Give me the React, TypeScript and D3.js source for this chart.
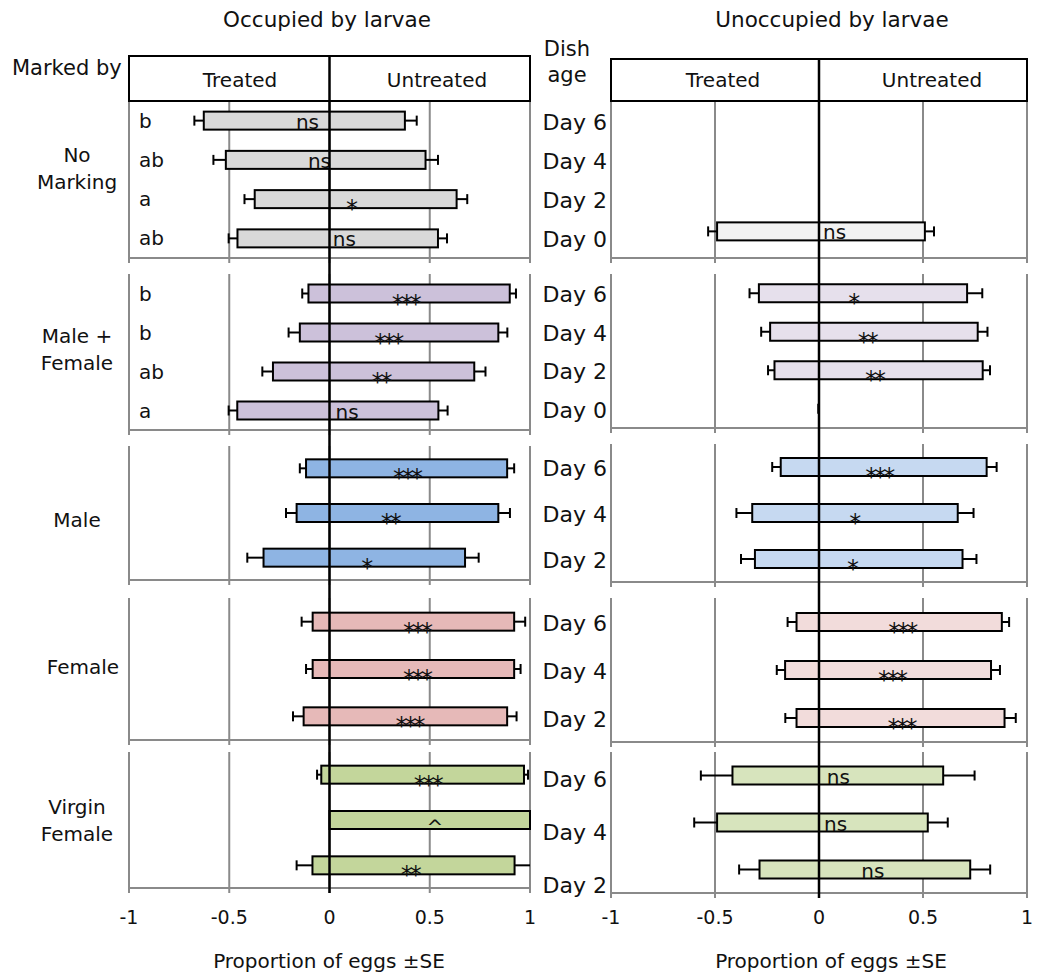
import React from "react";
import * as d3 from "d3";

// ---------------- DATA ----------------
const groupNames: string[][] = [["No", "Marking"], ["Male +", "Female"], ["Male"], ["Female"], ["Virgin", "Female"]];
const dayLabels: string[][] = [
  ["Day 6", "Day 4", "Day 2", "Day 0"],
  ["Day 6", "Day 4", "Day 2", "Day 0"],
  ["Day 6", "Day 4", "Day 2"],
  ["Day 6", "Day 4", "Day 2"],
  ["Day 6", "Day 4", "Day 2"],
];
const xTicks = [-1, -0.5, 0, 0.5, 1];

// Occupied by larvae (left panel): proportion on treated side / untreated side, with SE
const occTreated = [[0.627, 0.517, 0.373, 0.459], [0.105, 0.148, 0.282, 0.46], [0.117, 0.164, 0.329], [0.084, 0.084, 0.129], [0.041, 0, 0.085]];
const occTreatedSE = [[0.047, 0.062, 0.051, 0.044], [0.031, 0.056, 0.053, 0.043], [0.031, 0.053, 0.081], [0.055, 0.033, 0.053], [0.021, 0, 0.079]];
const occUntreated = [[0.376, 0.479, 0.634, 0.541], [0.899, 0.842, 0.722, 0.543], [0.886, 0.842, 0.676], [0.921, 0.921, 0.886], [0.97, 1.0, 0.923]];
const occUntreatedSE = [[0.059, 0.062, 0.053, 0.045], [0.031, 0.045, 0.056, 0.046], [0.035, 0.058, 0.068], [0.055, 0.032, 0.047], [0.02, 0, 0.09]];
const occSig = [["ns", "ns", "*", "ns"], ["***", "***", "**", "ns"], ["***", "**", "*"], ["***", "***", "***"], ["***", "^", "**"]];
const occSigAt = [[-0.11, -0.05, 0.105, 0.074], [0.378, 0.29, 0.254, 0.088], [0.384, 0.301, 0.181], [0.434, 0.434, 0.396], [0.487, 0.525, 0.4]];
const occLetters = [["b", "ab", "a", "ab"], ["b", "b", "ab", "a"], [], [], []];

// Unoccupied by larvae (right panel)
const unoccTreated = [[null, null, null, 0.49], [0.289, 0.235, 0.214, 0], [0.184, 0.321, 0.308], [0.108, 0.163, 0.108], [0.416, 0.49, 0.286]];
const unoccTreatedSE = [[0, 0, 0, 0.043], [0.045, 0.043, 0.031, 0], [0.041, 0.076, 0.067], [0.043, 0.04, 0.054], [0.152, 0.11, 0.098]];
const unoccUntreated = [[null, null, null, 0.509], [0.712, 0.763, 0.787, 0], [0.806, 0.667, 0.69], [0.879, 0.827, 0.892], [0.597, 0.523, 0.727]];
const unoccUntreatedSE = [[0, 0, 0, 0.044], [0.073, 0.047, 0.035, 0], [0.048, 0.076, 0.067], [0.035, 0.043, 0.054], [0.151, 0.096, 0.096]];
const unoccSig = [["", "", "", "ns"], ["*", "**", "**", ""], ["***", "*", "*"], ["***", "***", "***"], ["ns", "ns", "ns"]];
const unoccSigAt = [[0, 0, 0, 0.075], [0.162, 0.229, 0.264, 0], [0.287, 0.167, 0.156], [0.398, 0.349, 0.394], [0.093, 0.08, 0.259]];

const occColors = ["#d9d9d9", "#ccc1da", "#8eb4e3", "#e6b9b8", "#c3d69b"];
const unoccColors = ["#f2f2f2", "#e6e0ec", "#c6d9f1", "#f2dcdb", "#d7e4bd"];

// ---------------- LAYOUT ----------------
const W = 1046, H = 975;
const FONT = "'DejaVu Sans', Verdana, sans-serif";
const GRID = "#8a8a8a";

const leftX = d3.scaleLinear().domain([-1, 1]).range([129, 530]);
const rightX = d3.scaleLinear().domain([-1, 1]).range([611, 1027]);

const leftTops = [101, 274, 446, 598, 752];
const leftBottoms = [258, 430, 580, 740, 888];
const rightTops = [101, 274, 444, 598, 752];
const rightBottoms = [258, 428, 582, 742, 893];
const rightBarBottoms = [250, 428, 582, 742, 893];
const rightLabelBottoms = [258, 428, 582, 742, 910];
const groupLabelShift = [-11, -3, 7, -2, 0];

type PanelProps = {
  x: d3.ScaleLinear<number, number>;
  tops: number[];
  bottoms: number[];
  barBottoms: number[];
  treated: (number | null)[][];
  treatedSE: number[][];
  untreated: (number | null)[][];
  untreatedSE: number[][];
  sig: string[][];
  sigAt: number[][];
  colors: string[];
  headerTop: number;
  headerText: [number, number];
  title: string;
  titleX: number;
  axisTitleX: number;
};

function Panel(p: PanelProps) {
  const { x } = p;
  const x0 = x(0);
  const els: React.ReactNode[] = [];
  const barH = 18;
  p.tops.forEach((top, g) => {
    const bottom = p.bottoms[g];
    // gridlines & borders
    xTicks.forEach((t, k) => {
      els.push(<line key={`gl${g}-${k}`} x1={x(t)} x2={x(t)} y1={top} y2={bottom + 5} stroke={GRID} strokeWidth={2} />);
    });
    els.push(<line key={`bl${g}`} x1={x(-1) - 1} x2={x(1) + 1} y1={bottom} y2={bottom} stroke={GRID} strokeWidth={2} />);
    const band = d3.scaleBand<number>().domain(d3.range(dayLabels[g].length)).range([top, p.barBottoms[g]]);
    dayLabels[g].forEach((_, i) => {
      const T = p.treated[g][i];
      const U = p.untreated[g][i];
      if (T === null || U === null) return;
      const yc = (band(i) as number) + band.bandwidth() / 2;
      const xl = x(-T), xr = x(U);
      if (xr - xl < 1) {
        els.push(<line key={`z${g}-${i}`} x1={x0 - 1} x2={x0 - 1} y1={yc - 5} y2={yc + 5} stroke="#000" strokeWidth={1.5} />);
      } else {
        els.push(<rect key={`b${g}-${i}`} x={xl} y={yc - barH / 2} width={xr - xl} height={barH} fill={p.colors[g]} stroke="#000" strokeWidth={2} />);
      }
      const seT = p.treatedSE[g][i];
      if (seT > 0) {
        const xe = x(Math.max(-1, -T - seT));
        els.push(<line key={`et${g}-${i}`} x1={xl} x2={xe} y1={yc} y2={yc} stroke="#000" strokeWidth={2} />);
        if (-T - seT > -1) els.push(<line key={`ect${g}-${i}`} x1={xe} x2={xe} y1={yc - 5} y2={yc + 5} stroke="#000" strokeWidth={2} />);
      }
      const seU = p.untreatedSE[g][i];
      if (seU > 0) {
        const xe = x(Math.min(1, U + seU));
        els.push(<line key={`eu${g}-${i}`} x1={xr} x2={xe} y1={yc} y2={yc} stroke="#000" strokeWidth={2} />);
        if (U + seU < 1) els.push(<line key={`ecu${g}-${i}`} x1={xe} x2={xe} y1={yc - 5} y2={yc + 5} stroke="#000" strokeWidth={2} />);
      }
      const s = p.sig[g][i];
      if (s) {
        const isStar = s.includes("*");
        const isCaret = s === "^";
        els.push(
          <text key={`s${g}-${i}`} x={x(p.sigAt[g][i])} y={isStar ? yc + 18 : isCaret ? yc + 14 : yc + 8}
            textAnchor="middle" fontSize={isStar ? 24 : 20} letterSpacing={isStar ? -3 : 0} fill="#111">{s}</text>
        );
      }
    });
  });
  const lastBottom = p.bottoms[p.bottoms.length - 1];
  return (
    <g fontFamily={FONT}>
      <text x={p.titleX} y={27} textAnchor="middle" fontSize={21.5} fill="#111">{p.title}</text>
      {els}
      {/* header */}
      <rect x={x(-1)} y={p.headerTop} width={x(1) - x(-1)} height={101 - p.headerTop} fill="#fff" stroke="#000" strokeWidth={2} />
      <text x={p.headerText[0]} y={87} textAnchor="middle" fontSize={20} fill="#111">Treated</text>
      <text x={p.headerText[1]} y={87} textAnchor="middle" fontSize={20} fill="#111">Untreated</text>
      {/* zero line */}
      <line x1={x0} x2={x0} y1={p.headerTop} y2={lastBottom + 5} stroke="#000" strokeWidth={2.5} />
      {xTicks.map((t) => (
        <text key={`t${t}`} x={x(t)} y={924} textAnchor="middle" fontSize={19} fill="#111">{t === 0 ? "0" : String(t)}</text>
      ))}
      <text x={p.axisTitleX} y={968} textAnchor="middle" fontSize={20} fill="#111">Proportion of eggs ±SE</text>
    </g>
  );
}

export default function App() {
  return (
    <svg width={W} height={H} style={{ position: "absolute", left: 0, top: 0, background: "#fff" }} fontFamily={FONT}>
      <rect x={0} y={0} width={W} height={H} fill="#fff" />
      <Panel x={leftX} tops={leftTops} bottoms={leftBottoms} barBottoms={leftBottoms}
        treated={occTreated} treatedSE={occTreatedSE} untreated={occUntreated} untreatedSE={occUntreatedSE}
        sig={occSig} sigAt={occSigAt} colors={occColors} headerTop={56} headerText={[240, 437]}
        title="Occupied by larvae" titleX={327} axisTitleX={329} />
      <Panel x={rightX} tops={rightTops} bottoms={rightBottoms} barBottoms={rightBarBottoms}
        treated={unoccTreated} treatedSE={unoccTreatedSE} untreated={unoccUntreated} untreatedSE={unoccUntreatedSE}
        sig={unoccSig} sigAt={unoccSigAt} colors={unoccColors} headerTop={59} headerText={[723, 932]}
        title="Unoccupied by larvae" titleX={832} axisTitleX={831} />
      {/* left category annotations */}
      <text x={12} y={75} fontSize={21} fill="#111">Marked by</text>
      {groupNames.map((lines, g) => {
        const cy = (leftTops[g] + leftBottoms[g]) / 2 + groupLabelShift[g];
        const x = lines.length === 1 && lines[0] === "Female" ? 83 : 77;
        return lines.map((ln, k) => (
          <text key={`gn${g}-${k}`} x={x} y={cy + 7 + (k - (lines.length - 1) / 2) * 27} textAnchor="middle" fontSize={20} fill="#111">{ln}</text>
        ));
      })}
      {occLetters.map((ls, g) => {
        const band = d3.scaleBand<number>().domain(d3.range(dayLabels[g].length)).range([leftTops[g], leftBottoms[g]]);
        return ls.map((l, i) => (
          <text key={`lt${g}-${i}`} x={139} y={(band(i) as number) + band.bandwidth() / 2 + 7} fontSize={20} fill="#111">{l}</text>
        ));
      })}
      {/* dish age labels */}
      <text x={567} y={56} textAnchor="middle" fontSize={21} fill="#111">Dish</text>
      <text x={567} y={82} textAnchor="middle" fontSize={21} fill="#111">age</text>
      {dayLabels.map((ds, g) => {
        const band = d3.scaleBand<number>().domain(d3.range(ds.length)).range([rightTops[g], rightLabelBottoms[g]]);
        return ds.map((d, i) => (
          <text key={`dl${g}-${i}`} x={607} y={(band(i) as number) + band.bandwidth() / 2 + 9} textAnchor="end" fontSize={22} fill="#111">{d}</text>
        ));
      })}
    </svg>
  );
}
